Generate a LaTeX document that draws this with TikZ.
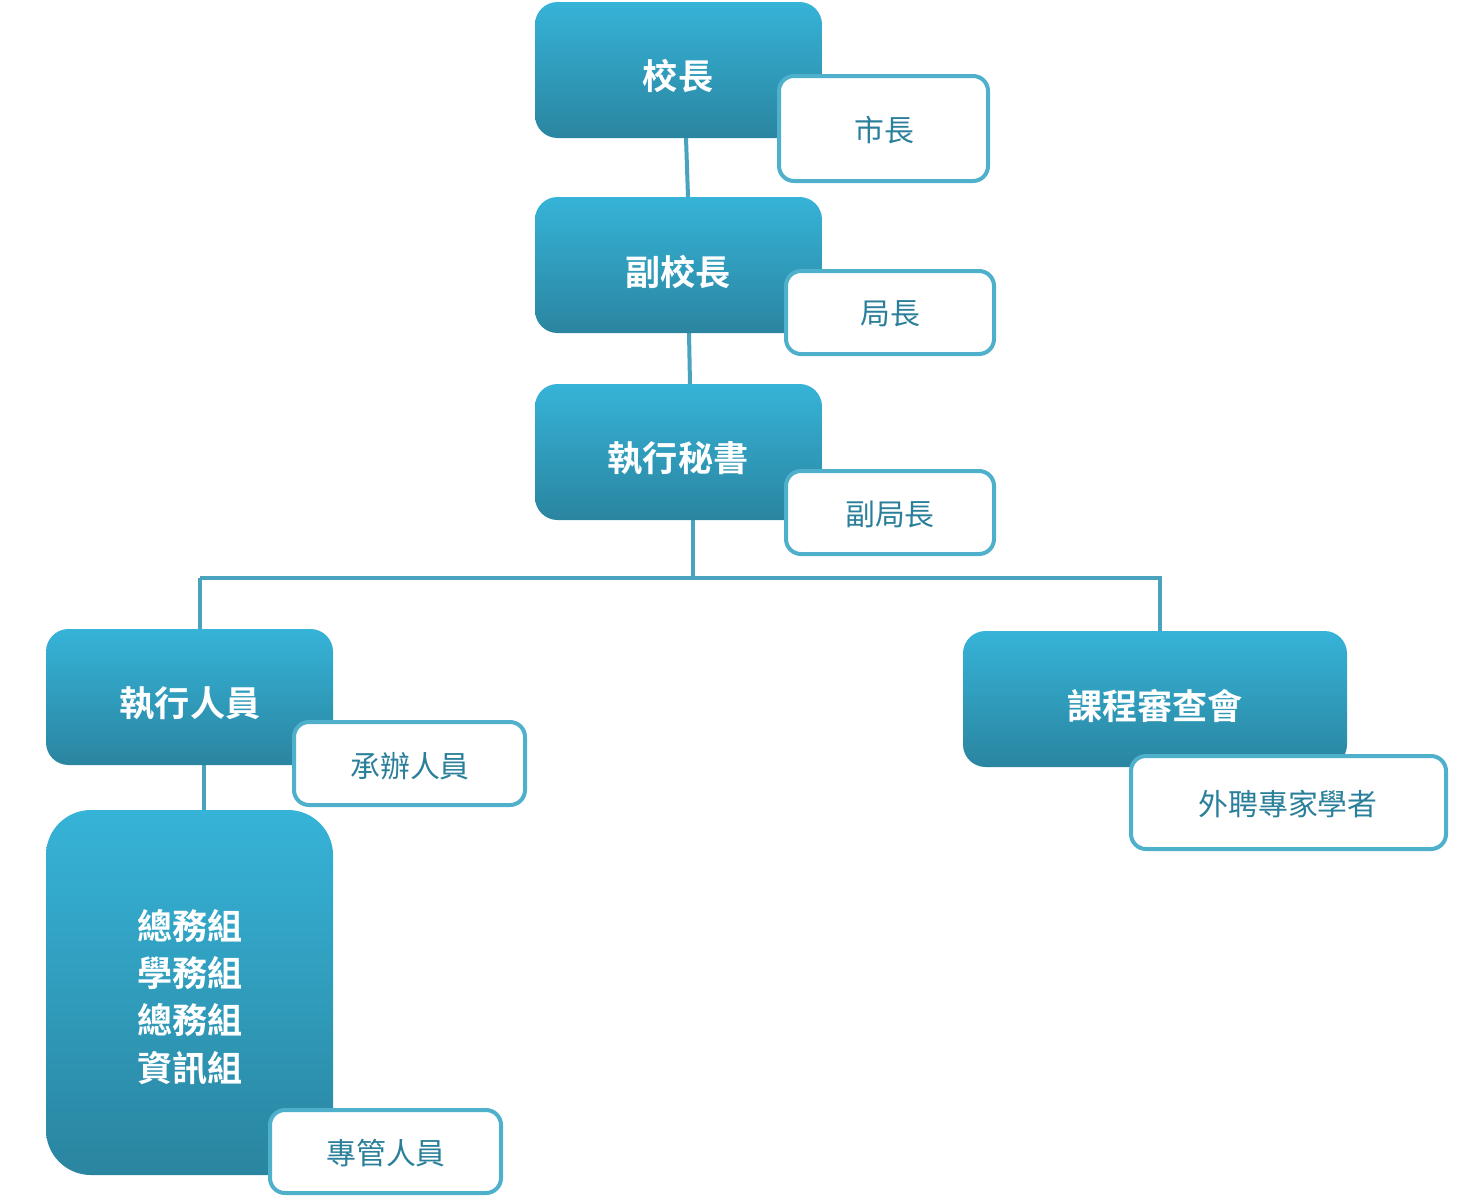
\documentclass[tikz,border=0pt]{standalone}
\usepackage{fontspec}
\newfontfamily\cjk{Noto Sans CJK TC}
\newfontfamily\cjkb{Noto Sans CJK TC Bold}
\definecolor{topc}{HTML}{36B3D8}
\definecolor{botc}{HTML}{2A85A0}
\definecolor{edgec}{HTML}{4FB0CC}
\definecolor{txtc}{HTML}{2A7F9A}
\definecolor{linec}{HTML}{4AA3BE}
\begin{document}
\begin{tikzpicture}[x=0.02cm,y=-0.02cm,
  mainbox/.style={rounded corners=0.45cm,top color=topc,bottom color=botc,draw=none},
  subbox/.style={rounded corners=0.3cm,fill=white,draw=edgec,line width=0.08cm},
  mtxt/.style={text=white,font=\cjkb\fontsize{20}{27}\selectfont,align=center},
  stxt/.style={text=txtc,font=\cjk\fontsize{17}{20}\selectfont},
  conn/.style={draw=linec,line width=0.08cm}]
\useasboundingbox (0,0) rectangle (1462,1200);
% connectors
\coordinate (h1) at (200,578); \coordinate (h2) at (1162,578); \coordinate (hm) at (693,578);
\draw[conn] (686,138) -- (688,197);
\draw[conn] (689,333) -- (690,384);
\draw[conn] (693,520) -- (hm);
\draw[conn] (h1) -- (h2);
\draw[conn] (h1) -- (200,629);
\draw[conn] (1160,578) -- (1160,631);
\draw[conn] (204,765) -- (204,810);
% main boxes
\path[mainbox] (535,2) rectangle (822,138);
\node[mtxt] (a) at (678,76) {校長};
\path[mainbox] (535,197) rectangle (822,333);
\node[mtxt] (b) at (678,272) {副校長};
\path[mainbox] (535,384) rectangle (822,520);
\node[mtxt] (c) at (678,458) {執行秘書};
\path[mainbox] (46,629) rectangle (333,765);
\node[mtxt] (d) at (190,703) {執行人員};
\path[mainbox] (963,631) rectangle (1347,767);
\node[mtxt] (e) at (1155,706) {課程審查會};
\path[mainbox,rounded corners=0.9cm] (46,810) rectangle (333,1175);
\node[mtxt] (f) at (190,997) {總務組\\學務組\\總務組\\資訊組};
% sub boxes
\path[subbox] (779,76) rectangle (988,181);
\node[stxt] (a2) at (884,130) {市長};
\path[subbox] (786,271) rectangle (994,354);
\node[stxt] (b2) at (890,314) {局長};
\path[subbox] (786,471) rectangle (994,554);
\node[stxt] (c2) at (890,514) {副局長};
\path[subbox] (294,722) rectangle (525,805);
\node[stxt] (d2) at (410,766) {承辦人員};
\path[subbox] (1131,756) rectangle (1446,849);
\node[stxt] (e2) at (1288,804) {外聘專家學者};
\path[subbox] (270,1110) rectangle (501,1193);
\node[stxt] (f2) at (386,1153) {專管人員};
\end{tikzpicture}
\end{document}
